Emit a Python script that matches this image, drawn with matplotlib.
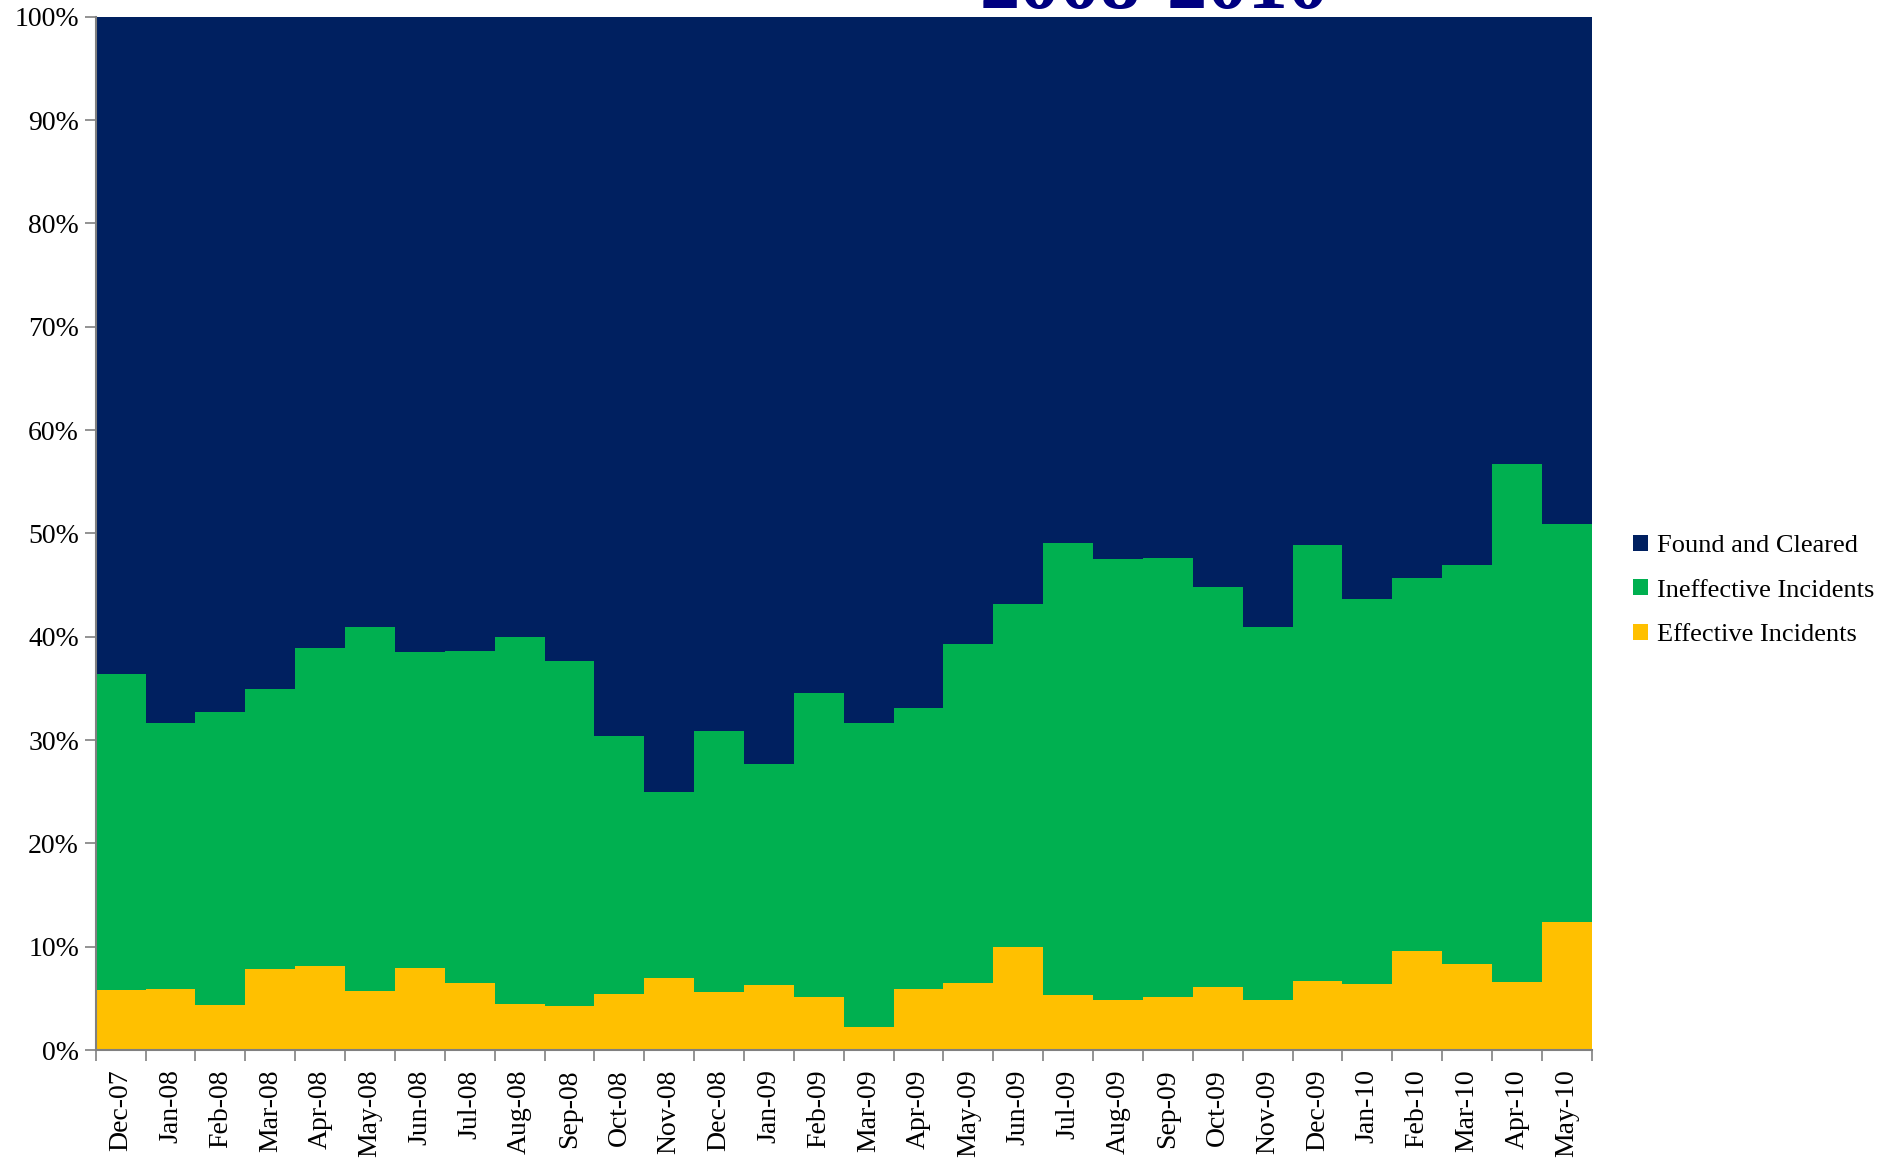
import matplotlib.pyplot as plt
import numpy as np

months = ['Dec-07', 'Jan-08', 'Feb-08', 'Mar-08', 'Apr-08', 'May-08', 'Jun-08',
          'Jul-08', 'Aug-08', 'Sep-08', 'Oct-08', 'Nov-08', 'Dec-08', 'Jan-09',
          'Feb-09', 'Mar-09', 'Apr-09', 'May-09', 'Jun-09', 'Jul-09', 'Aug-09',
          'Sep-09', 'Oct-09', 'Nov-09', 'Dec-09', 'Jan-10', 'Feb-10', 'Mar-10',
          'Apr-10', 'May-10']

# percent of total
effective = [5.8, 5.9, 4.4, 7.8, 8.1, 5.7, 7.9, 6.5, 4.5, 4.3, 5.4, 7.0, 5.6, 6.3,
             5.1, 2.2, 5.9, 6.5, 10.0, 5.3, 4.8, 5.1, 6.1, 4.8, 6.7, 6.4, 9.6, 8.3,
             6.6, 12.4]
top_green = [36.4, 31.7, 32.7, 34.9, 38.9, 40.9, 38.5, 38.6, 40.0, 37.7, 30.4, 25.0,
             30.9, 27.7, 34.6, 31.7, 33.1, 39.3, 43.2, 49.1, 47.5, 47.6, 44.8, 40.9,
             48.9, 43.7, 45.7, 46.9, 56.7, 50.9]
ineffective = [g - e for g, e in zip(top_green, effective)]
found = [100 - g for g in top_green]

plt.rcParams['font.family'] = ['Liberation Serif', 'DejaVu Serif']

fig = plt.figure(figsize=(18.77, 11.59), dpi=100)
ax = fig.add_axes([0.051, 0.094, 0.797, 0.8915])

x = np.arange(len(months))
b1 = ax.bar(x, effective, width=1.0, color='#FFC000', label='Effective Incidents')
b2 = ax.bar(x, ineffective, width=1.0, bottom=effective, color='#00B050',
            label='Ineffective Incidents')
b3 = ax.bar(x, found, width=1.0, bottom=top_green, color='#002060',
            label='Found and Cleared')

ax.set_xlim(-0.5, len(months) - 0.5)
ax.set_ylim(0, 100)
ax.set_yticks(range(0, 101, 10))
ax.set_yticklabels([f'{v}%' for v in range(0, 101, 10)], fontsize=20)
ax.set_xticks(x)
ax.set_xticklabels(months, rotation=90, fontsize=20)
ax.set_xticks(np.arange(-0.5, len(months), 1), minor=True)
ax.tick_params(axis='x', which='major', length=0, pad=14)
ax.tick_params(axis='x', which='minor', length=8, color='#808080', width=1.2)
ax.tick_params(axis='y', length=8, color='#808080', width=1.2, pad=4)

for s in ['top', 'right']:
    ax.spines[s].set_visible(False)
for s in ['left', 'bottom']:
    ax.spines[s].set_color('#808080')
    ax.spines[s].set_linewidth(1.5)

ax.legend(handles=[b3, b2, b1], loc='center left', bbox_to_anchor=(0.8575, 0.4905),
          bbox_transform=fig.transFigure, frameon=False, fontsize=19,
          handlelength=0.55, handleheight=0.55, handletextpad=0.35, labelspacing=0.85)

fig.text(0.615, 0.993, '2008-2010', ha='center', va='baseline', fontsize=58,
         fontweight='bold', color='#000080')

fig.savefig('out.png', dpi=100)
